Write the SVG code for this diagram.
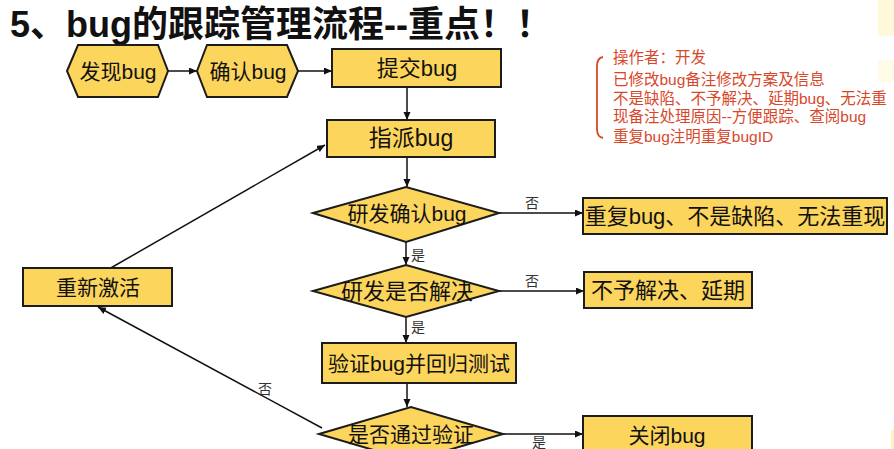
<svg xmlns="http://www.w3.org/2000/svg" width="894" height="449" viewBox="0 0 894 449">
<style>
.box{fill:#FCD55C;stroke:#1c1c1c;stroke-width:2}
.t{font-family:"Liberation Sans","Noto Sans CJK SC",sans-serif;fill:#111;text-anchor:middle;dominant-baseline:central}
.lbl{font-family:"Liberation Serif","Noto Sans CJK SC",serif;font-size:14px;fill:#333;text-anchor:middle;dominant-baseline:central}
.ln{stroke:#111;stroke-width:1.5;fill:none;marker-end:url(#ah)}
.note{font-family:"Liberation Sans","Noto Sans CJK SC",sans-serif;font-size:15.5px;fill:#D9472A}
</style>
<defs>
<marker id="ah" markerUnits="userSpaceOnUse" markerWidth="9" markerHeight="8" refX="8" refY="3.5" orient="auto">
<path d="M0,0 L8,3.5 L0,7 z" fill="#111"/>
</marker>
</defs>
<rect width="894" height="449" fill="#fff"/>
<rect x="878" y="0" width="16" height="36" fill="#FFF9DC"/>
<rect x="878" y="60" width="16" height="22" fill="#FFFBE6"/>
<rect x="891" y="430" width="3" height="19" fill="#FFF3C4"/>

<text x="10" y="37" font-family="'Liberation Sans','Noto Sans CJK SC',sans-serif" font-size="36" font-weight="bold" fill="#111">5、bug的跟踪管理流程--重点！！</text>

<g id="connectors">
<line class="ln" x1="168" y1="71" x2="197" y2="71"/>
<line class="ln" x1="298" y1="71" x2="332" y2="71"/>
<line class="ln" x1="407" y1="87" x2="407" y2="120"/>
<line class="ln" x1="407" y1="157" x2="407" y2="187"/>
<line class="ln" x1="499" y1="213" x2="583" y2="213"/>
<text class="lbl" x="532" y="203">否</text>
<line class="ln" x1="406" y1="242" x2="406" y2="265"/>
<text class="lbl" x="418" y="255">是</text>
<line class="ln" x1="499" y1="291" x2="584" y2="291"/>
<text class="lbl" x="532" y="281">否</text>
<line class="ln" x1="406" y1="317" x2="406" y2="343"/>
<text class="lbl" x="418" y="327">是</text>
<line class="ln" x1="407" y1="383" x2="407" y2="407"/>
<line class="ln" x1="503" y1="434" x2="583" y2="434"/>
<text class="lbl" x="539" y="442">是</text>
<line class="ln" x1="102" y1="273" x2="325" y2="145"/>
<line class="ln" x1="322" y1="428" x2="98" y2="307"/>
<text class="lbl" x="265" y="389">否</text>
</g>

<g id="n-faxian">
<polygon class="box" points="67,71 78,45 158,45 168,71 158,97 78,97"/>
<text class="t" x="118" y="71" font-size="21">发现bug</text>
</g>
<g id="n-queren">
<polygon class="box" points="197,71 207,45 287,45 298,71 287,97 207,97"/>
<text class="t" x="248" y="71" font-size="21">确认bug</text>
</g>
<g id="n-tijiao">
<rect class="box" x="332" y="49" width="169" height="38"/>
<text class="t" x="417" y="68" font-size="22">提交bug</text>
</g>
<g id="n-zhipai">
<rect class="box" x="327" y="120" width="168" height="37"/>
<text class="t" x="411" y="138" font-size="23">指派bug</text>
</g>
<g id="n-yanfaqueren">
<polygon class="box" points="313,213 406,187 499,213 406,242"/>
<text class="t" x="407" y="213" font-size="21">研发确认bug</text>
</g>
<g id="n-chongfu">
<rect class="box" x="583" y="198" width="304" height="36"/>
<text class="t" x="735" y="216" font-size="22">重复bug、不是缺陷、无法重现</text>
</g>
<g id="n-jiejue">
<polygon class="box" points="313,291 406,265 499,291 406,317"/>
<text class="t" x="407" y="291" font-size="22">研发是否解决</text>
</g>
<g id="n-buyu">
<rect class="box" x="584" y="272" width="168" height="36"/>
<text class="t" x="668" y="290" font-size="22">不予解决、延期</text>
</g>
<g id="n-yanzheng">
<rect class="box" x="322" y="343" width="194" height="40"/>
<text class="t" x="419" y="363" font-size="21">验证bug并回归测试</text>
</g>
<g id="n-tongguo">
<polygon class="box" points="319,434 411,407 503,434 411,461"/>
<text class="t" x="411" y="434" font-size="21">是否通过验证</text>
</g>
<g id="n-guanbi">
<rect class="box" x="583" y="416" width="169" height="40"/>
<text class="t" x="667" y="435" font-size="21">关闭bug</text>
</g>
<g id="n-jihuo">
<rect class="box" x="23" y="268" width="149" height="38"/>
<text class="t" x="98" y="287" font-size="21">重新激活</text>
</g>

<g id="note">
<path d="M603,57 Q597,58 597,66 L597,129 Q597,137 603,138" fill="none" stroke="#D9472A" stroke-width="1.8"/>
<text class="note" x="613" y="63">操作者：开发</text>
<text class="note" x="613" y="85">已修改bug备注修改方案及信息</text>
<text class="note" x="613" y="104">不是缺陷、不予解决、延期bug、无法重</text>
<text class="note" x="613" y="122">现备注处理原因--方便跟踪、查阅bug</text>
<text class="note" x="613" y="142">重复bug注明重复bugID</text>
</g>
</svg>
